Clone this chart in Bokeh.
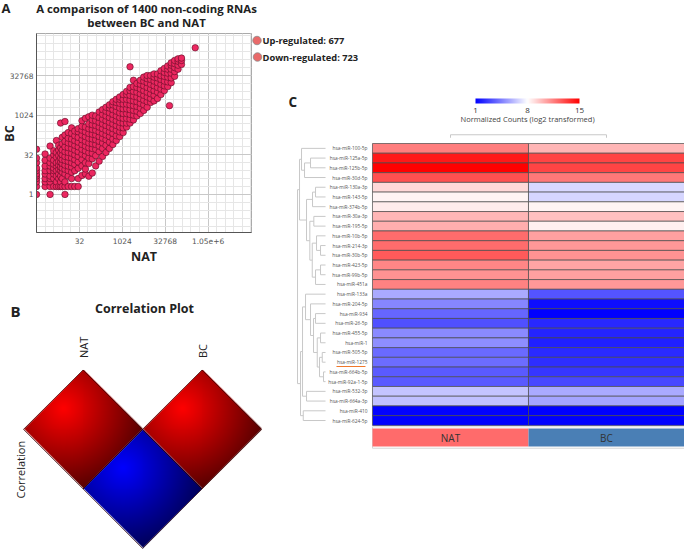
import numpy as np
from bokeh.plotting import figure
from bokeh.models import (Range1d, FixedTicker, GridBox, ColumnDataSource,
                          LinearColorMapper, ColorBar)
from bokeh.transform import transform
from bokeh.core.properties import value
from bokeh.embed import file_html
from bokeh.resources import INLINE

FONT = value("Open Sans")

# ---------------- Panel A data ----------------
scatter_title = ["A comparison of 1400 non-coding RNAs", "between BC and NAT"]
regulation_labels = ["Up-regulated", "Down-regulated"]
regulation_counts = [677, 723]
x_tick_values = [32, 1024, 32768, 1048576]
x_tick_labels = ["32", "1024", "32768", "1.05e+6"]
y_tick_values = [1, 32, 1024, 32768]
y_tick_labels = ["1", "32", "1024", "32768"]

# log2 of NAT counts (one entry per column of points) and log2 of BC counts for each
nat_log2_levels = [0, 1, 1.58, 2, 2.32, 2.58, 2.81, 3, 3.32, 3.7, 4.09, 4.46, 4.86,
                   5.3, 5.7, 6.1, 6.5, 6.9, 7.3, 7.7, 8.1, 8.5, 8.9, 9.3, 9.7, 10.1,
                   10.5, 10.9, 11.3, 11.7, 12.1, 12.5, 12.9, 13.3, 13.7, 14.1, 14.5,
                   14.9, 15.3, 15.5, 15.7, 16.1, 16.5, 16.9, 18.5]
bc_log2_by_level = [
    [0, 1, 1.58, 2, 2.32, 2.58, 3, 3.32, 4, 4.58, 5.7],
    [1, 1.58, 2, 2.58, 3, 3.58, 4.32, 5.1],
    [0, 1, 1.58, 2, 2.32, 3, 3.58, 4, 4.58, 6.1],
    [1, 2, 2.58, 3, 3.32, 3.81, 4.32, 5, 5.5],
    [1, 1.58, 2.32, 3, 3.58, 4, 4.7, 5.3, 6.8],
    [1, 2, 2.58, 3.17, 3.7, 4.17, 4.9, 5.6, 6.2],
    [1, 1.58, 2.32, 3, 3.46, 4.09, 4.58, 5.2, 5.9, 9.0],
    [1, 2, 2.81, 3.32, 3.9, 4.4, 5.0, 5.6, 6.4, 7.2],
    [0, 1, 1.58, 2.58, 3.17, 3.7, 4.3, 4.8, 5.4, 6.0, 6.7, 7.5, 9.2],
    [1, 2.32, 3, 3.58, 4.17, 4.7, 5.3, 5.9, 6.5, 7.1, 7.8],
    [1, 2, 2.81, 3.46, 4.0, 4.6, 5.2, 5.8, 6.4, 7.0, 7.7, 8.4],
    [1, 3.0, 3.8, 4.4, 5.0, 5.6, 6.2, 6.8, 7.4, 8.0],
    [1, 2.0, 3.3, 4.1, 4.8, 5.4, 6.0, 6.6, 7.2, 7.9, 8.3],
    [2.4, 3.6, 4.4, 5.1, 5.7, 6.3, 6.9, 7.5, 8.1, 8.6, 9.3],
    [2.6, 3.2, 4.0, 4.9, 5.5, 6.1, 6.7, 7.3, 7.9, 8.5, 9.6],
    [2.3, 3.9, 4.6, 5.3, 5.9, 6.5, 7.1, 7.7, 8.3, 8.9, 9.8],
    [2.7, 4.5, 5.2, 5.8, 6.4, 7.0, 7.6, 8.2, 8.8, 9.4, 10.0],
    [3.6, 4.9, 5.7, 6.3, 6.9, 7.5, 8.1, 8.7, 9.3, 9.9],
    [4.2, 5.4, 6.1, 6.7, 7.3, 7.9, 8.5, 9.1, 9.7, 10.4],
    [4.8, 5.8, 6.5, 7.1, 7.7, 8.3, 8.9, 9.5, 10.1, 10.7],
    [5.3, 6.2, 6.9, 7.5, 8.1, 8.7, 9.3, 9.9, 10.5, 11.0],
    [5.8, 6.6, 7.3, 7.9, 8.5, 9.1, 9.7, 10.3, 10.9, 11.3],
    [6.3, 7.0, 7.7, 8.3, 8.9, 9.5, 10.1, 10.7, 11.3, 11.7],
    [6.8, 7.4, 8.1, 8.7, 9.3, 9.9, 10.5, 11.1, 11.6, 12.0],
    [7.3, 7.9, 8.5, 9.1, 9.7, 10.3, 10.9, 11.5, 12.0, 12.3],
    [7.8, 8.4, 9.0, 9.6, 10.2, 10.8, 11.4, 12.0, 12.6],
    [8.5, 9.0, 9.6, 10.2, 10.8, 11.4, 12.0, 12.6, 13.0],
    [9.0, 9.5, 10.1, 10.7, 11.3, 11.9, 12.5, 13.1, 13.5, 16.1],
    [9.4, 10.0, 10.6, 11.2, 11.8, 12.4, 13.0, 13.6, 14.4],
    [9.9, 10.5, 11.1, 11.7, 12.3, 12.9, 13.5, 14.0],
    [10.2, 10.9, 11.5, 12.1, 12.7, 13.3, 13.9, 14.4],
    [10.6, 11.3, 11.9, 12.5, 13.1, 13.7, 14.3, 14.8],
    [11.0, 11.7, 12.3, 12.9, 13.5, 14.1, 14.6, 15.0],
    [11.6, 12.1, 12.7, 13.3, 13.9, 14.5, 15.0],
    [11.8, 12.5, 13.1, 13.7, 14.3, 14.8, 15.2],
    [12.1, 12.9, 13.5, 14.1, 14.7, 15.2],
    [12.6, 13.3, 13.9, 14.5, 15.0, 15.6],
    [13.1, 13.7, 14.3, 14.9, 15.4, 15.9],
    [13.6, 14.2, 14.8, 15.3, 15.8, 16.2],
    [11.2],
    [14.1, 14.7, 15.3, 15.8, 16.3, 16.6],
    [14.9, 15.5, 16.0, 16.5, 16.9],
    [15.8, 16.3, 16.8, 17.1],
    [16.4, 16.9, 17.2],
    [18.5],
]

# ---------------- Panel B data ----------------
corr_title = "Correlation Plot"
corr_samples = ["NAT", "BC"]
corr_matrix = [[1.0, 0.93], [0.93, 1.0]]
corr_axis_label = "Correlation"

# ---------------- Panel C data ----------------
mirnas = ["hsa-miR-100-5p", "hsa-miR-125a-5p", "hsa-miR-125b-5p", "hsa-miR-30d-5p",
          "hsa-miR-130a-3p", "hsa-miR-143-5p", "hsa-miR-374b-5p", "hsa-miR-30a-3p",
          "hsa-miR-195-5p", "hsa-miR-10b-5p", "hsa-miR-214-3p", "hsa-miR-30b-5p",
          "hsa-miR-423-5p", "hsa-miR-99b-5p", "hsa-miR-451a", "hsa-miR-133a",
          "hsa-miR-204-5p", "hsa-miR-934", "hsa-miR-26-5p", "hsa-miR-455-5p",
          "hsa-miR-1", "hsa-miR-505-5p", "hsa-miR-1275", "hsa-miR-664b-5p",
          "hsa-miR-92a-1-5p", "hsa-miR-532-3p", "hsa-miR-664a-3p", "hsa-miR-410",
          "hsa-miR-624-5p"]
nat_expr = [11.5, 14.3, 15.0, 12.8, 9.05, 8.3, 8.5, 10.0, 10.2, 12.0, 12.0, 12.5, 11.3,
            11.0, 11.4, 5.7, 4.7, 3.8, 3.2, 4.8, 4.9, 3.9, 4.0, 3.5, 3.5, 6.4, 6.3, 1.1, 1.0]
bc_expr = [10.0, 13.1, 13.1, 11.7, 6.95, 6.9, 8.3, 9.7, 8.4, 10.6, 10.8, 11.0, 10.5,
           10.6, 10.8, 3.3, 1.4, 1.0, 2.1, 2.0, 1.9, 2.2, 2.3, 2.5, 3.0, 5.7, 5.5, 1.0, 1.0]
groups = ["NAT", "BC"]
group_colors = ["#ff6b6b", "#4a7fb5"]
highlight_mirna = "hsa-miR-1275"
color_low, color_mid, color_high = 1, 8, 15
color_title = "Normalized Counts (log2 transformed)"
# hierarchical clustering of rows: (child a, child b, merge height); new ids start at 29
row_merges = [(1, 2, 15), (29, 3, 21), (0, 30, 24), (4, 5, 10), (32, 6, 13), (7, 8, 11.7),
              (10, 11, 5), (9, 35, 9), (12, 13, 5), (37, 14, 10), (36, 38, 13.3),
              (34, 39, 15.7), (33, 40, 19), (31, 41, 26), (17, 18, 10), (19, 20, 5),
              (21, 22, 3.3), (23, 24, 2), (45, 46, 6), (44, 47, 8.3), (43, 48, 12),
              (16, 49, 15), (15, 50, 20), (25, 26, 19), (51, 52, 23), (27, 28, 22.3),
              (53, 54, 25), (42, 55, 28)]
col_merge_height = 0.31

W, H = 684, 549


def style_blank(fig):
    fig.grid.visible = False
    fig.outline_line_color = None
    fig.background_fill_color = None
    fig.border_fill_color = None


def txt(fig, x, y, s, size, bold=False, align="center", baseline="middle",
        color="#222222", angle=0.0, font=FONT):
    fig.text(x=[x], y=[y], text=[s], text_font=font, text_font_size=size,
             text_font_style="bold" if bold else "normal", text_align=align,
             text_baseline=baseline, text_color=color, angle=angle)


# ================= decoration layer (titles, panel letters, legend) =================
fd = figure(width=W, height=H, x_range=Range1d(0, W), y_range=Range1d(H, 0),
            min_border=0, x_axis_location=None, y_axis_location=None,
            output_backend="svg", toolbar_location=None, frame_align=False)
style_blank(fd)
txt(fd, 1, 7, "A", "13px", bold=True, align="left")
txt(fd, 146, 7.5, scatter_title[0], "11.4px", bold=True)
txt(fd, 146, 21.5, scatter_title[1], "11.4px", bold=True)
txt(fd, 9, 133, "BC", "12.5px", bold=True, angle=np.pi / 2)
fd.scatter(x=[256.5, 257], y=[40, 56.5], size=8.5, fill_color="#e96a6a",
           line_color="#8c8c8c", line_width=0.8)
for i, (lab, cnt) in enumerate(zip(regulation_labels, regulation_counts)):
    txt(fd, 262, 40 + 16.5 * i, f"{lab}: {cnt}", "9.3px", bold=True, align="left")
txt(fd, 10, 310, "B", "15px", bold=True, align="left")
txt(fd, 144, 308, corr_title, "12.5px", bold=True)
txt(fd, 288, 101.5, "C", "13.5px", bold=True, align="left")

# ================= Panel A: scatter =================
nat_vals, bc_vals = [], []
for xl, ys in zip(nat_log2_levels, bc_log2_by_level):
    for yl in ys:
        nat_vals.append(2.0 ** xl)
        bc_vals.append(2.0 ** yl)
src_a = ColumnDataSource(dict(nat=nat_vals, bc=bc_vals))

fa = figure(frame_width=215, frame_height=199, x_axis_type="log", y_axis_type="log",
            x_range=Range1d(2 ** 0, 2 ** 25.06), y_range=Range1d(2 ** -4.8, 2 ** 20.3),
            min_border_left=36, min_border_right=4, min_border_top=33,
            min_border_bottom=38, output_backend="svg", toolbar_location=None,
            frame_align=False)
fa.border_fill_color = None
fa.background_fill_color = "white"
fa.outline_line_color = "#aaaaaa"
xt = FixedTicker(ticks=x_tick_values, minor_ticks=[2.0 ** k for k in range(0, 26)])
yt = FixedTicker(ticks=y_tick_values, minor_ticks=[2.0 ** k for k in range(-4, 21)])
fa.xaxis.ticker = xt
fa.xgrid.ticker = xt
fa.yaxis.ticker = yt
fa.ygrid.ticker = yt
fa.xaxis.major_label_overrides = {v: s for v, s in zip(x_tick_values, x_tick_labels)}
fa.yaxis.major_label_overrides = {v: s for v, s in zip(y_tick_values, y_tick_labels)}
for ax in (fa.xaxis[0], fa.yaxis[0]):
    ax.axis_line_color = "#555555"
    ax.major_tick_line_color = None
    ax.minor_tick_line_color = None
    ax.major_tick_out = 0
    ax.minor_tick_out = 0
    ax.major_label_text_font = "DejaVu Sans"
    ax.major_label_text_font_size = "7.5px"
    ax.major_label_text_color = "#555555"
fa.xaxis.major_label_standoff = 5
fa.yaxis.major_label_standoff = 3
fa.xaxis.axis_label = "NAT"
fa.xaxis.axis_label_text_font = "Open Sans"
fa.xaxis.axis_label_text_font_style = "bold"
fa.xaxis.axis_label_text_font_size = "12.5px"
fa.xaxis.axis_label_text_color = "#222222"
fa.xaxis.axis_label_standoff = 1
for g in (fa.xgrid[0], fa.ygrid[0]):
    g.grid_line_color = "#c8c8c8"
    g.minor_grid_line_color = "#e6e6e6"
fa.scatter(x="nat", y="bc", source=src_a, size=6.5, fill_color="#ec2760",
           line_color="#5c0b24", line_width=0.6)

# ================= Panel B: correlation plot =================
fb = figure(frame_width=290, frame_height=259, x_range=Range1d(-1.387, 3.487),
            y_range=Range1d(-2.017, 2.336), min_border=0, x_axis_location=None,
            y_axis_location=None, output_backend="svg", toolbar_location=None,
            frame_align=False)
style_blank(fb)
fb.margin = (290, 0, 0, 0)
N = 120
gg = (np.arange(N) + 0.5) / N * 2 - 1
cx, cy = np.meshgrid(gg, gg)
shade = np.clip(1 - 0.476 * np.hypot(cx + 0.34, cy - 0.35), 0, 1)
alpha = np.clip((1 - (np.abs(cx) + np.abs(cy))) * N / 2 + 0.5, 0, 1)
cvals = np.array(corr_matrix)
cmin, cmax = cvals.min(), cvals.max()
imgs, ix, iy, oxs, oys = [], [], [], [], []
n = len(corr_samples)
for i in range(n):
    for j in range(i + 1):
        t = (corr_matrix[i][j] - cmin) / (cmax - cmin) if cmax > cmin else 1.0
        rgba = np.zeros((N, N, 4), dtype=np.uint8)
        rgba[..., 0] = (255 * t * shade).astype(np.uint8)
        rgba[..., 2] = (255 * (1 - t) * shade).astype(np.uint8)
        rgba[..., 3] = (255 * alpha).astype(np.uint8)
        imgs.append(rgba.view(np.uint32).reshape(N, N))
        u, v = i + j, -(i - j)
        ix.append(u - 1)
        iy.append(v - 1)
        oxs.append([u - 1, u, u + 1, u])
        oys.append([v, v + 1, v, v - 1])
fb.image_rgba(image=imgs, x=ix, y=iy, dw=2, dh=2)
fb.patches(xs=oxs, ys=oys, fill_color=None, line_color="#2a0000", line_width=0.8,
           line_alpha=0.8)
fb.text(x=[2 * k for k in range(n)], y=[1.2] * n, text=corr_samples, angle=np.pi / 2,
        text_font=FONT, text_font_size="11px", text_align="left",
        text_baseline="middle", text_color="#222222")
txt(fb, -1.05, -1.16, corr_axis_label, "11px", align="left", angle=np.pi / 2)

# ================= Panel C: heatmap =================
fc = figure(frame_width=394, frame_height=459, x_range=Range1d(-0.5256, 2.0),
            y_range=Range1d(41.77, -5.453), min_border=0, x_axis_location=None,
            y_axis_location=None, output_backend="svg", toolbar_location=None,
            frame_align=False)
style_blank(fc)
fc.margin = (90, 0, 0, 290)

palette = []
for k in range(256):
    vv = color_low + (color_high - color_low) * k / 255
    if vv <= color_mid:
        s = (vv - color_low) / (color_mid - color_low)
        r, g_, b = 255 * s, 255 * s, 255
    else:
        t = (vv - color_mid) / (color_high - color_mid)
        r, g_, b = 255, 255 * (1 - t), 255 * (1 - t)
    palette.append("#%02x%02x%02x" % (round(r), round(g_), round(b)))
mapper = LinearColorMapper(palette=palette, low=color_low, high=color_high)

hx, hy, hv = [], [], []
for ci, vals in enumerate([nat_expr, bc_expr]):
    for ri, val in enumerate(vals):
        hx.append(ci + 0.5)
        hy.append(ri + 0.5)
        hv.append(val)
src_c = ColumnDataSource(dict(x=hx, y=hy, v=hv))
fc.rect(x="x", y="y", width=1, height=1, source=src_c,
        fill_color=transform("v", mapper), line_color="#4a4a4a", line_width=0.7)

nrow = len(mirnas)
fc.text(x=[-0.032] * nrow, y=[r + 0.5 for r in range(nrow)], text=mirnas,
        text_font=FONT, text_font_size="4.8px", text_align="right",
        text_baseline="middle", text_color="#555555")
hi = mirnas.index(highlight_mirna)
fc.segment(x0=[-0.231], y0=[hi + 0.94], x1=[-0.045], y1=[hi + 0.94],
           line_color="#f0782a", line_width=1.2)

# row dendrogram
leaf_end = -0.301
px_unit = 1 / 156
node_y = {i: i + 0.5 for i in range(nrow)}
node_h = {i: 0.0 for i in range(nrow)}
dxs, dys = [], []
for k, (a, b, h) in enumerate(row_merges):
    nid = nrow + k
    xh = leaf_end - h * px_unit
    for c in (a, b):
        dxs.append([leaf_end - node_h[c] * px_unit, xh])
        dys.append([node_y[c], node_y[c]])
    dxs.append([xh, xh])
    dys.append([node_y[a], node_y[b]])
    node_y[nid] = (node_y[a] + node_y[b]) / 2
    node_h[nid] = h
fc.multi_line(xs=dxs, ys=dys, line_color="#c8c8c8", line_width=1)

# column dendrogram
ctop = -0.59 - col_merge_height
fc.multi_line(xs=[[0.5, 0.5, 1.5, 1.5]], ys=[[-0.59, ctop, ctop, -0.59]],
              line_color="#c8c8c8", line_width=1)

# column annotation bar
fc.rect(x=[1.0], y=[30.25], width=2.0, height=2.2, fill_color=None,
        line_color="#d6d6d6", line_width=1)
fc.rect(x=[0.5, 1.5], y=[30.25, 30.25], width=1, height=1.85,
        fill_color=group_colors, line_color=None)
fc.text(x=[0.5, 1.5], y=[30.3, 30.3], text=groups, text_font=FONT,
        text_font_size="10px", text_align="center", text_baseline="middle",
        text_color="#333333")

# color bar
cb = ColorBar(color_mapper=mapper, orientation="horizontal", width=104, height=5,
              location=(185, 434), ticker=FixedTicker(ticks=[color_low, color_mid, color_high]),
              major_label_text_font="Open Sans", major_label_text_font_size="8px",
              major_label_text_color="#333333", major_tick_line_color=None,
              bar_line_color=None, border_line_color=None, background_fill_color=None,
              padding=0, label_standoff=4)
fc.add_layout(cb, "center")
txt(fc, 0.994, -2.47, color_title, "7.5px", color="#444444")

layout = GridBox(children=[(fd, 0, 0), (fa, 0, 0), (fb, 0, 0), (fc, 0, 0)])
open("out.html", "w").write(file_html(layout, INLINE))
